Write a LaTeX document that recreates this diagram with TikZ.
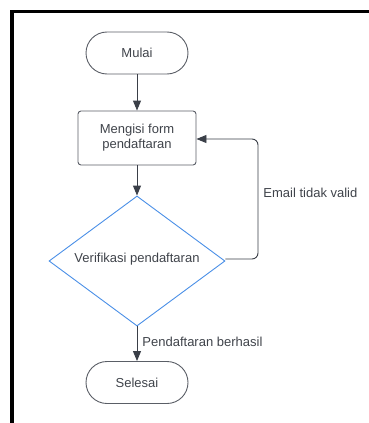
\documentclass[tikz,border=0pt]{standalone}
\usepackage{fontspec}
\setmainfont{Liberation Sans}
\usetikzlibrary{shapes.geometric,arrows.meta}
\definecolor{txt}{HTML}{3F434A}
\definecolor{edge}{HTML}{5A5E66}
\definecolor{conn}{HTML}{3A3F48}
\definecolor{dblue}{HTML}{4A8FE7}
\tikzset{
  terminal/.style={draw=edge, line width=0.9pt, rounded corners=21pt, minimum width=102pt, minimum height=42pt, text=txt, font=\fontsize{13}{15}\selectfont, inner sep=0pt},
  procbox/.style={draw=edge, line width=0.9pt, rounded corners=3pt, minimum width=118pt, minimum height=54pt, text=txt, font=\fontsize{13}{15}\selectfont, align=center, inner sep=0pt},
  decision/.style={draw=dblue, line width=0.9pt, diamond, aspect=1.354, minimum width=176pt, minimum height=130pt, inner sep=0pt, text=txt, font=\fontsize{13}{15}\selectfont},
  flow/.style={draw=conn, line width=0.9pt, -{Triangle[length=10pt,width=8pt]}},
  lbl/.style={text=txt, font=\fontsize{13}{15}\selectfont, inner sep=0pt}
}
\begin{document}
\begin{tikzpicture}[x=1pt,y=-1pt]
\useasboundingbox (0,0) rectangle (369,423);
\draw[line width=3.5pt, black] (12,424) -- (12,11.5) -- (370,11.5);
\node[terminal] (start) at (137,53) {Mulai};
\node[procbox] (form) at (137,138) {Mengisi form\\pendaftaran};
\node[decision] (ver) at (137,261) {};
\node[lbl] at (137,259) {Verifikasi pendaftaran};
\node[terminal] (end) at (137,382.5) {Selesai};
\coordinate (c1) at (258,259);
\coordinate (c2) at (258,139);
\draw[flow] (start) -- (form);
\draw[flow] (form) -- (ver.north);
\draw[flow] (ver.south) -- node[lbl, anchor=west, xshift=5pt, yshift=1.5pt] {Pendaftaran berhasil} (end);
\draw[flow, rounded corners=6pt] (ver.east |- c1) -- (c1) -- node[lbl, anchor=west, xshift=5pt, pos=0.55] {Email tidak valid} (c2) -- (form.east |- c2);
\end{tikzpicture}
\end{document}
